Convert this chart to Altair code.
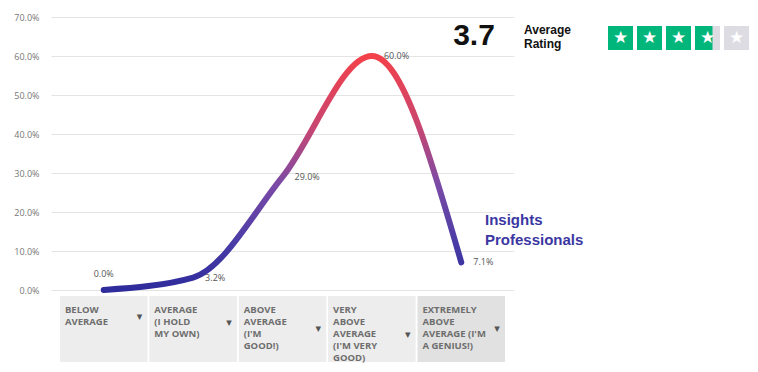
import altair as alt
import pandas as pd

# ---- data ----
categories = [
    "BELOW\nAVERAGE",
    "AVERAGE\n(I HOLD\nMY OWN)",
    "ABOVE\nAVERAGE\n(I'M\nGOOD!)",
    "VERY\nABOVE\nAVERAGE\n(I'M VERY\nGOOD)",
    "EXTREMELY\nABOVE\nAVERAGE (I'M\nA GENIUS!)",
]
shares = [0.0, 0.032, 0.29, 0.60, 0.071]
series_name = "Insights\nProfessionals"
rating = 3.7
rating_label = "Average\nRating"
star_count = 5
y_ticks = [0.0, 0.1, 0.2, 0.3, 0.4, 0.5, 0.6, 0.7]

df = pd.DataFrame({"cat": categories, "share": shares, "idx": list(range(len(categories)))})
df["nlines"] = [c.count("\n") + 1 for c in categories]
stars = pd.DataFrame({"i": list(range(star_count))})
stars["frac"] = [max(0.0, min(1.0, rating - i)) for i in range(star_count)]

W, H = 463, 345
PLOT_H = 273
last_cat = categories[-1]
TXT_TOP = 288
LINE_H = 12


def band_x(pos):
    return alt.X("cat:N", sort=categories, bandPosition=pos, axis=None,
                 scale=alt.Scale(type="band", paddingInner=0.02, paddingOuter=0.1))


yscale = alt.Scale(domain=[0, 0.7], range=[PLOT_H, 0], nice=False)

base = alt.Chart(df)

boxes = base.mark_rect().encode(
    x=band_x(0),
    y=alt.value(279), y2=alt.value(H),
    color=alt.condition(alt.datum.cat == last_cat, alt.value("#e1e1e1"), alt.value("#ededed")),
)

box_text = base.mark_text(align="left", baseline="top", lineBreak="\n", fontSize=9.5,
                          lineHeight=LINE_H, dx=5, font="Open Sans", fontWeight="bold",
                          color="#6e6e6e").encode(
    x=band_x(0),
    y=alt.value(TXT_TOP),
    text="cat:N",
)

arrows = base.transform_calculate(ay=f"{TXT_TOP} + datum.nlines * {LINE_H} / 2").mark_text(
    text="▾", fontSize=11, font="DejaVu Sans", color="#555555", dx=-8, baseline="middle"
).encode(
    x=band_x(1),
    y=alt.Y("ay:Q", scale=None),
)

grad = alt.Gradient(
    gradient="linear",
    stops=[
        alt.GradientStop(color="#f3414a", offset=0),
        alt.GradientStop(color="#c94670", offset=0.3),
        alt.GradientStop(color="#7a4aa6", offset=0.55),
        alt.GradientStop(color="#4a3ca6", offset=0.8),
        alt.GradientStop(color="#2e2b9c", offset=1),
    ],
    x1=0, x2=0, y1=0, y2=1,
)

xc = band_x(0.5)

line = base.mark_line(interpolate="monotone", strokeWidth=6, strokeCap="round",
                      stroke=grad).encode(
    x=xc,
    y=alt.Y("share:Q", scale=yscale,
            axis=alt.Axis(values=y_ticks, format=".1%", title=None, domain=False, ticks=False,
                          labelPadding=12, labelFontSize=9, labelColor="#777777",
                          labelFont="Open Sans", gridColor="#e4e4e4", gridWidth=1)),
)

first_label = base.transform_filter(alt.datum.idx == 0).mark_text(
    fontSize=9, font="Open Sans", color="#555555", dy=-16
).encode(x=xc, y=alt.Y("share:Q", scale=yscale), text=alt.Text("share:Q", format=".1%"))

other_labels = base.transform_filter(alt.datum.idx > 0).mark_text(
    fontSize=9, font="Open Sans", color="#555555", align="left", dx=12
).encode(x=xc, y=alt.Y("share:Q", scale=yscale), text=alt.Text("share:Q", format=".1%"))

name_text = alt.Chart(pd.DataFrame({"t": [series_name]})).mark_text(
    align="left", baseline="top", lineBreak="\n", fontSize=15, lineHeight=20,
    font="Liberation Sans", fontWeight="bold", color="#3b37a2"
).encode(x=alt.value(434), y=alt.value(196), text="t:N")

rating_text = alt.Chart(pd.DataFrame({"t": [f"{rating:.1f}"]})).mark_text(
    align="center", baseline="middle", fontSize=30, font="Liberation Sans",
    fontWeight="bold", color="#111111"
).encode(x=alt.value(423), y=alt.value(19), text="t:N")

rating_lbl = alt.Chart(pd.DataFrame({"t": [rating_label]})).mark_text(
    align="left", baseline="top", lineBreak="\n", fontSize=12, lineHeight=14,
    font="Liberation Sans", fontWeight="bold", color="#111111"
).encode(x=alt.value(473), y=alt.value(8), text="t:N")

sbase = alt.Chart(stars).transform_calculate(
    sx="557 + datum.i * 29", sx2="557 + datum.i * 29 + 25",
    gx2="557 + datum.i * 29 + 25 * datum.frac", cx="557 + datum.i * 29 + 12.5"
)
star_bg = sbase.mark_rect(color="#dcdce2").encode(
    x=alt.X("sx:Q", scale=None), x2="sx2:Q", y=alt.value(9), y2=alt.value(33))
star_fg = sbase.mark_rect(color="#00b67a").encode(
    x=alt.X("sx:Q", scale=None), x2="gx2:Q", y=alt.value(9), y2=alt.value(33))
star_glyph = sbase.mark_text(text="★", fontSize=17, font="DejaVu Sans", color="white",
                             baseline="middle").encode(
    x=alt.X("cx:Q", scale=None), y=alt.value(21))

chart = alt.layer(
    boxes, box_text, arrows, line, first_label, other_labels, name_text,
    rating_text, rating_lbl, star_bg, star_fg, star_glyph
).properties(
    width=W, height=H, background="white",
    padding={"left": 5, "top": 5, "right": 0, "bottom": 0},
).configure_view(stroke=None)

chart.save("out.html", embed_options={"renderer": "svg", "actions": False})
